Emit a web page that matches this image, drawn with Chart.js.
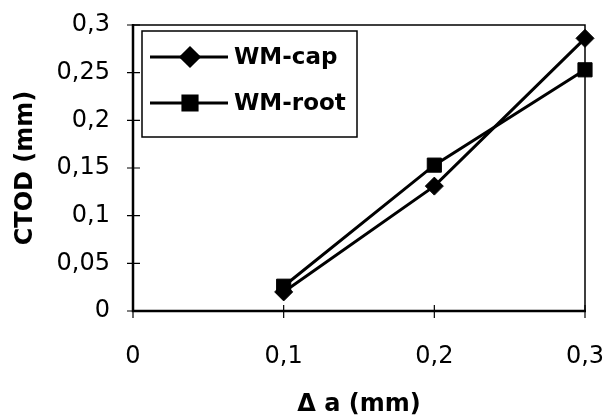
<!DOCTYPE html>
<html>
<head>
<meta charset="utf-8">
<script src="https://cdn.jsdelivr.net/npm/chart.js@4.4.0/dist/chart.umd.min.js"></script>
<style>
  html, body { margin: 0; padding: 0; background: #fff; }
  #wrap { width: 609px; height: 420px; }
</style>
</head>
<body>
<div id="wrap"><canvas id="ctodChart"></canvas></div>
<script>
// Datos
const deltaA = [0.1, 0.2, 0.3];
const ctodCap = [0.020, 0.131, 0.286];
const ctodRoot = [0.026, 0.153, 0.253];
const seriesNames = ['WM-cap', 'WM-root'];
const seriesMarkers = ['rectRot', 'rect'];
const xTicks = [0, 0.1, 0.2, 0.3];
const yTicks = [0, 0.05, 0.1, 0.15, 0.2, 0.25, 0.3];

const FONT = '"DejaVu Sans", Arial, sans-serif';
const comma = v => String(Number(v.toFixed(2))).replace('.', ',');

function toPoints(ys) {
    return deltaA.map((x, i) => ({ x: x, y: ys[i] }));
}

// quitar el relleno automático que Chart.js añade por las etiquetas de los extremos
function noEdgePadding(s) {
    s.paddingTop = 0;
    s.paddingBottom = 0;
    s.paddingLeft = 0;
    s.paddingRight = 0;
}

// Marco del área de trazado + marcas de graduación que cruzan el eje
const frameAndTicks = {
    id: 'frameAndTicks',
    beforeDatasetsDraw(chart) {
        const { ctx, chartArea: a, scales } = chart;
        ctx.save();
        ctx.strokeStyle = '#000';
        ctx.lineWidth = 1.5;
        ctx.beginPath();
        ctx.moveTo(a.left, a.top); ctx.lineTo(a.right, a.top); ctx.lineTo(a.right, a.bottom);
        ctx.stroke();
        ctx.lineWidth = 2.5;
        ctx.beginPath();
        ctx.moveTo(a.left, a.top - 1); ctx.lineTo(a.left, a.bottom); ctx.lineTo(a.right + 1, a.bottom);
        ctx.stroke();
        ctx.lineWidth = 1.2;
        ctx.beginPath();
        scales.y.ticks.forEach(t => {
            const py = scales.y.getPixelForValue(t.value);
            ctx.moveTo(a.left - 6, py); ctx.lineTo(a.left + 7, py);
        });
        scales.x.ticks.forEach(t => {
            const px = scales.x.getPixelForValue(t.value);
            ctx.moveTo(px, a.bottom - 6); ctx.lineTo(px, a.bottom + 7);
        });
        ctx.stroke();
        ctx.restore();
    }
};

// Leyenda dentro del área, como en el original
const boxLegend = {
    id: 'boxLegend',
    afterDraw(chart) {
        const { ctx } = chart;
        const box = { x: 142, y: 31, w: 215, h: 106 };
        ctx.save();
        ctx.fillStyle = '#fff';
        ctx.fillRect(box.x, box.y, box.w, box.h);
        ctx.strokeStyle = '#000';
        ctx.lineWidth = 1.5;
        ctx.strokeRect(box.x, box.y, box.w, box.h);
        chart.data.datasets.forEach((ds, i) => {
            const cy = 57 + i * 46;
            ctx.strokeStyle = '#000';
            ctx.lineWidth = 3;
            ctx.beginPath();
            ctx.moveTo(150, cy); ctx.lineTo(228, cy);
            ctx.stroke();
            ctx.fillStyle = '#000';
            Chart.helpers.drawPoint(ctx, {
                pointStyle: ds.pointStyle, radius: ds.pointRadius, rotation: 0, borderWidth: 1
            }, 190, cy);
            ctx.font = 'bold 23px ' + FONT;
            ctx.textBaseline = 'middle';
            ctx.textAlign = 'left';
            ctx.fillText(ds.label, 234, cy + 1);
        });
        ctx.restore();
    }
};

const makeDataset = (i, ys) => ({
    label: seriesNames[i],
    data: toPoints(ys),
    showLine: true,
    borderColor: '#000',
    backgroundColor: '#000',
    borderWidth: 3,
    pointStyle: seriesMarkers[i],
    pointRadius: i === 0 ? 9 : 10,
    pointBorderWidth: 1,
    pointBackgroundColor: '#000',
    pointBorderColor: '#000',
    clip: false
});

new Chart(document.getElementById('ctodChart'), {
    type: 'scatter',
    data: {
        datasets: [makeDataset(0, ctodCap), makeDataset(1, ctodRoot)]
    },
    options: {
        responsive: true,
        maintainAspectRatio: false,
        animation: false,
        layout: { padding: { top: 25, right: 24, left: 0, bottom: 0 } },
        plugins: {
            legend: { display: false },
            tooltip: { enabled: false }
        },
        scales: {
            x: {
                type: 'linear',
                min: 0, max: 0.3,
                afterBuildTicks: s => { s.ticks = xTicks.map(v => ({ value: v })); },
                afterFit: s => { s.height = 109; noEdgePadding(s); },
                grid: { display: false, drawTicks: false },
                border: { display: false },
                ticks: {
                    color: '#000',
                    font: { family: FONT, size: 24 },
                    padding: 31,
                    maxRotation: 0,
                    callback: v => comma(v)
                },
                title: {
                    display: true,
                    text: 'Δ a (mm)',
                    color: '#000',
                    font: { family: FONT, size: 24, weight: 'bold' },
                    padding: { top: 0, bottom: 1 }
                }
            },
            y: {
                min: 0, max: 0.3,
                afterBuildTicks: s => { s.ticks = yTicks.map(v => ({ value: v })); },
                afterFit: s => { s.width = 133; noEdgePadding(s); },
                grid: { display: false, drawTicks: false },
                border: { display: false },
                ticks: {
                    color: '#000',
                    font: { family: FONT, size: 24 },
                    padding: 23,
                    callback: v => comma(v)
                },
                title: {
                    display: true,
                    text: 'CTOD (mm)',
                    color: '#000',
                    font: { family: FONT, size: 24, weight: 'bold' },
                    padding: { top: 11, bottom: 0 }
                }
            }
        }
    },
    plugins: [frameAndTicks, boxLegend]
});
</script>
</body>
</html>
